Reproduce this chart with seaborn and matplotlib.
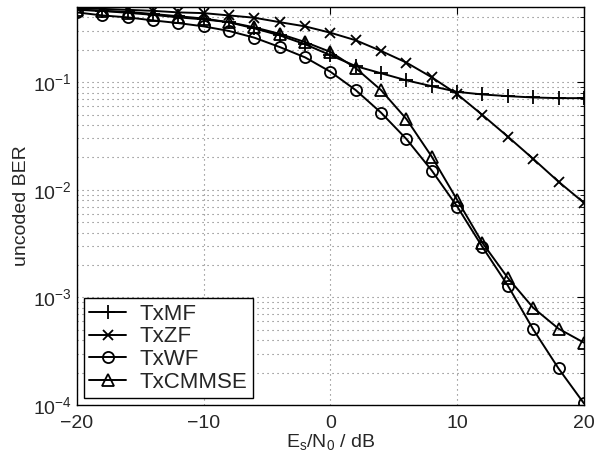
import numpy as np
import pandas as pd
import seaborn as sns
import matplotlib.pyplot as plt
from matplotlib.ticker import LogLocator, NullFormatter

snr_db = [-20, -18, -16, -14, -12, -10, -8, -6, -4, -2, 0,
          2, 4, 6, 8, 10, 12, 14, 16, 18, 20]

ber_txmf = [0.475, 0.46, 0.45, 0.43, 0.41, 0.39, 0.36, 0.316, 0.272, 0.225, 0.178,
            0.141, 0.121, 0.104, 0.0918, 0.0813, 0.0769, 0.0742, 0.0721, 0.0711, 0.0711]
ber_txzf = [0.49, 0.48, 0.47, 0.46, 0.445, 0.438, 0.417, 0.397, 0.361, 0.330, 0.288,
            0.245, 0.195, 0.152, 0.111, 0.0774, 0.0495, 0.0312, 0.0194, 0.0119, 0.00759]
ber_txwf = [0.445, 0.417, 0.40, 0.375, 0.354, 0.330, 0.299, 0.259, 0.212, 0.170, 0.125,
            0.0843, 0.0520, 0.0296, 0.0151, 0.0070, 0.00294, 0.00129, 5.06e-4, 2.19e-4, 1.04e-4]
ber_txcmmse = [0.47, 0.459, 0.441, 0.422, 0.40, 0.383, 0.361, 0.323, 0.281, 0.236, 0.191,
               0.135, 0.0843, 0.0454, 0.0203, 0.00807, 0.00321, 0.00152, 8.03e-4, 5.13e-4, 3.81e-4]

series = [('TxMF', ber_txmf, '+', 10),
          ('TxZF', ber_txzf, 'x', 7),
          ('TxWF', ber_txwf, 'o', 8),
          ('TxCMMSE', ber_txcmmse, '^', 9)]

sns.set_style('white')
plt.rcParams['font.family'] = ['Liberation Sans', 'DejaVu Sans']
plt.rcParams['mathtext.fontset'] = 'custom'
plt.rcParams['mathtext.rm'] = 'Liberation Sans'
plt.rcParams['mathtext.it'] = 'Liberation Sans'

fig = plt.figure(figsize=(5.97, 4.63), dpi=100)
ax = fig.add_axes([0.129, 0.125, 0.849, 0.860])

for name, vals, mk, ms in series:
    df = pd.DataFrame({'snr': snr_db, 'ber': vals})
    sns.lineplot(data=df, x='snr', y='ber', ax=ax, color='black', lw=1.4,
                 marker=mk, markersize=ms, markerfacecolor='none',
                 markeredgecolor='black', markeredgewidth=1.3, label=name)

ax.set_yscale('log')
ax.set_xlim(-20, 20)
ax.set_ylim(1e-4, 0.5)
ax.set_xticks([-20, -10, 0, 10, 20])
ax.yaxis.set_major_locator(LogLocator(base=10, numticks=10))
ax.yaxis.set_minor_locator(LogLocator(base=10, subs=np.arange(2, 10), numticks=20))
ax.yaxis.set_minor_formatter(NullFormatter())

grid_style = dict(color='0.45', ls=(0, (1, 3.5)), lw=0.8)
ax.grid(True, which='major', axis='both', **grid_style)
ax.grid(True, which='minor', axis='y', **grid_style)
ax.tick_params(which='both', direction='in', top=True, right=True, labelsize=14,
               color='black')
ax.tick_params(which='major', length=5)
ax.tick_params(which='minor', length=3)
ax.tick_params(axis='x', pad=7)
for sp in ax.spines.values():
    sp.set_color('black')
    sp.set_linewidth(1.0)

ax.set_xlabel(r'$\mathregular{E_s/N_0}$ / dB', fontsize=14, labelpad=0)
ax.set_ylabel('uncoded BER', fontsize=14, labelpad=2)

leg = ax.legend(loc='lower left', fontsize=16, frameon=True, fancybox=False,
                edgecolor='black', framealpha=1, borderaxespad=0.3,
                handlelength=1.65, handletextpad=0.6, labelspacing=0.08,
                borderpad=0.25)
leg.get_frame().set_linewidth(1.0)

fig.savefig('out.png', dpi=100)
